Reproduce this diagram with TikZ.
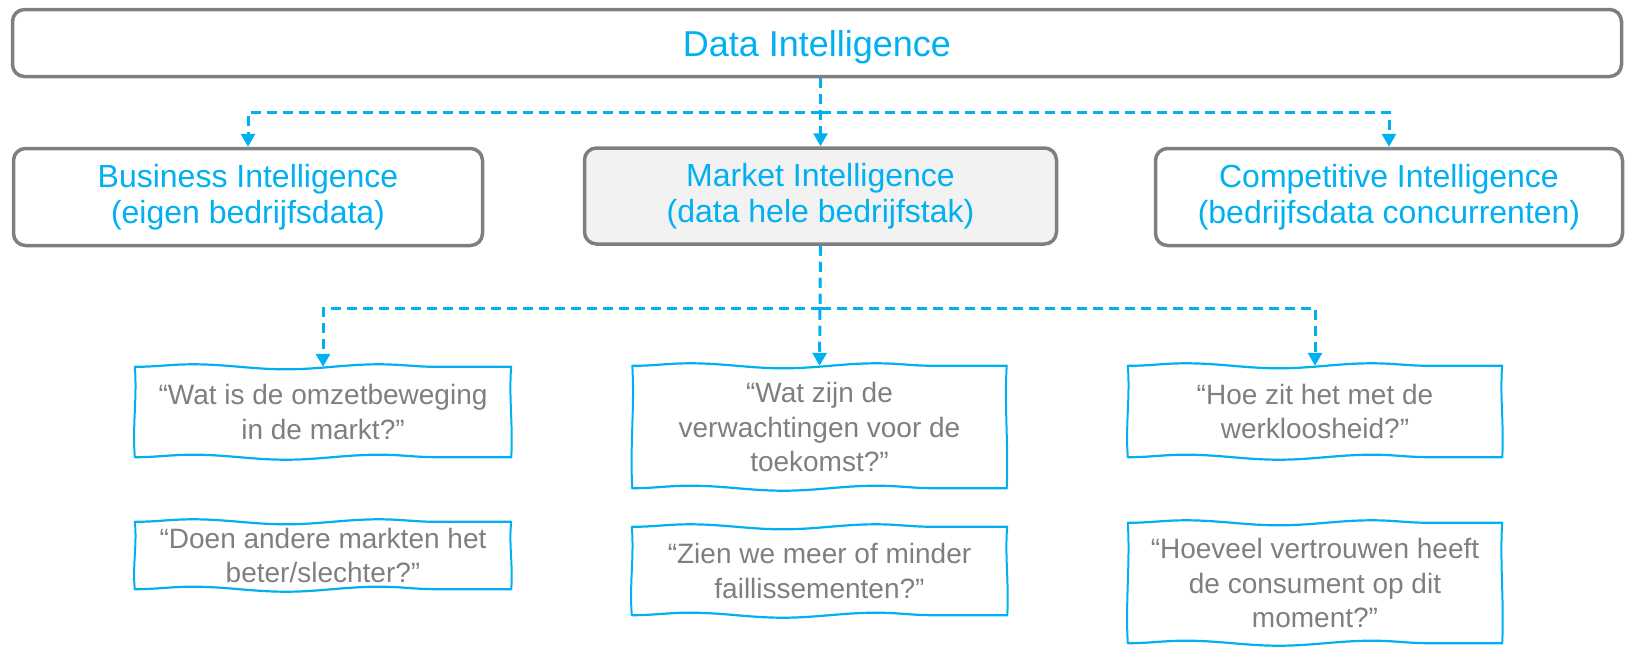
\documentclass[tikz,border=0pt]{standalone}
\usepackage{fontspec}
\setmainfont{Liberation Sans}
\usetikzlibrary{arrows.meta,decorations.pathmorphing,calc}
\definecolor{cblue}{HTML}{00B0F0}
\definecolor{cgray}{HTML}{7F7F7F}
\definecolor{cfill}{HTML}{F2F2F2}
\newcommand\wavyframe[1]{%
  \draw[waveh] (#1.north west) -- (#1.north east);
  \draw[waveh] (#1.south west) -- (#1.south east);
  \draw[wavev] (#1.north west) .. controls ($(#1.north west)!0.33!(#1.south west)+(2.5,0)$)
     and ($(#1.north west)!0.66!(#1.south west)+(-2.5,0)$) .. (#1.south west);
  \draw[wavev] (#1.north east) .. controls ($(#1.north east)!0.33!(#1.south east)+(-2.5,0)$)
     and ($(#1.north east)!0.66!(#1.south east)+(2,0)$) .. (#1.south east);
}
\begin{document}
\begin{tikzpicture}[x=1pt,y=-1pt,
  box/.style={draw=cgray, line width=3.5pt, rounded corners=12pt, text=cblue,
    font=\fontsize{32}{36}\selectfont, align=center, inner sep=0pt},
  quote/.style={text=cgray, font=\fontsize{28}{34.5}\selectfont, align=center, inner sep=0pt},
  conn/.style={draw=cblue, line width=3pt, dash pattern=on 10pt off 6pt,
    -{Triangle[length=13pt,width=14pt]}},
  waveh/.style={draw=cblue, line width=2.2pt, line cap=round, decorate,
    decoration={snake, amplitude=2.5pt, segment length=186pt}},
  wavev/.style={draw=cblue, line width=2pt, line cap=round}
]
\useasboundingbox (0,0) rectangle (1626,646);

\node[box, font=\fontsize{36}{40}\selectfont, minimum width=1609, minimum height=67] (di) at (817,43) {\raisebox{-13pt}[0pt][0pt]{Data Intelligence}};
\node[box, minimum width=469, minimum height=97] (bi) at (248,197) {Business Intelligence\\(eigen bedrijfsdata)};
\node[box, fill=cfill, minimum width=472, minimum height=96] (mi) at (820.5,196) {Market Intelligence\\(data hele bedrijfstak)};
\node[box, minimum width=467, minimum height=97] (ci) at (1389,197) {Competitive Intelligence\\(bedrijfsdata concurrenten)};

\node[quote, minimum width=376, minimum height=90] (q1) at (323,412) {“Wat is de omzetbeweging\\in de markt?”};
\node[quote, minimum width=374, minimum height=122] (q2) at (819.5,427) {“Wat zijn de\\verwachtingen voor de\\toekomst?”};
\node[quote, minimum width=374, minimum height=91] (q3) at (1315,411.5) {“Hoe zit het met de\\werkloosheid?”};
\node[quote, minimum width=376, minimum height=67] (q4) at (323,555.5) {“Doen andere markten het\\beter/slechter?”};
\node[quote, minimum width=375, minimum height=88] (q5) at (819.5,571) {“Zien we meer of minder\\faillissementen?”};
\node[quote, minimum width=374, minimum height=120] (q6) at (1315,583) {“Hoeveel vertrouwen heeft\\de consument op dit\\moment?”};

\foreach \q in {q1,q2,q3,q4,q5,q6} {\wavyframe{\q}}

\coordinate (j1) at (820.5,112);
\coordinate (j2) at (820.5,308);
\draw[conn] (di.south -| mi.north) -- (mi.north);
\draw[conn] (j1) -| (bi.north);
\draw[conn] (j1) -| (ci.north);
\draw[conn] (mi.south) -- (q2.north);
\draw[conn] (j2) -| (q1.north);
\draw[conn] (j2) -| (q3.north);
\end{tikzpicture}
\end{document}
